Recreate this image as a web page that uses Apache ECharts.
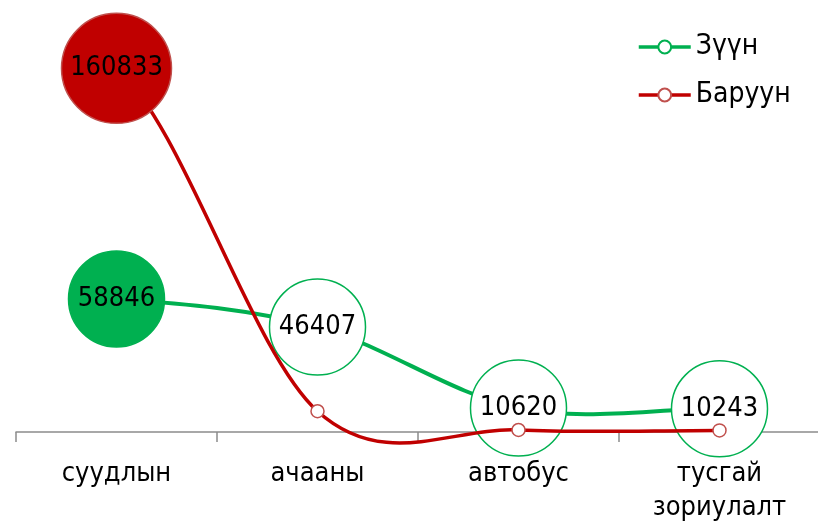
<!DOCTYPE html>
<html>
<head>
<meta charset="utf-8">
<script src="https://cdn.jsdelivr.net/npm/echarts@6/dist/echarts.min.js"></script>
<style>
  html, body { margin: 0; padding: 0; background: #fff; }
  #main { width: 818px; height: 521px; }
</style>
</head>
<body>
<div id="main"></div>
<script>
// categories and series values
const categories = ['суудлын', 'ачааны', 'автобус', 'тусгай\nзориулалт'];
const eastValues = [58846, 46407, 10620, 10243];   // Зүүн
const westValues = [160833, 9200, 900, 700];      // Баруун
const westLabelShown = [true, false, false, false];

const font = '"DejaVu Sans Condensed", "DejaVu Sans", sans-serif';
const GREEN = '#00b050';
const RED = '#c00000';

let myChart = echarts.init(document.getElementById('main'));

// excel-like smoothed segment (catmull-rom), one segment per data item
const smoothSegment = (values, color, width) => (params, api) => {
  const i = params.dataIndex;
  if (i >= values.length - 1) return null;
  const pt = j => api.coord([j, values[Math.max(0, Math.min(values.length - 1, j))]]);
  const p0 = pt(i - 1), p1 = pt(i), p2 = pt(i + 1), p3 = pt(i + 2);
  const c1 = [p1[0] + (p2[0] - p0[0]) / 6, p1[1] + (p2[1] - p0[1]) / 6];
  const c2 = [p2[0] - (p3[0] - p1[0]) / 6, p2[1] - (p3[1] - p1[1]) / 6];
  return {
    type: 'bezierCurve',
    shape: { x1: p1[0], y1: p1[1], cpx1: c1[0], cpy1: c1[1], cpx2: c2[0], cpy2: c2[1], x2: p2[0], y2: p2[1] },
    style: { stroke: color, lineWidth: width, fill: null }
  };
};

const eastData = eastValues.map((v, i) => {
  if (i === 0) {
    return { value: v, itemStyle: { color: GREEN, borderColor: GREEN } };
  }
  return { value: v };
});

const westData = westValues.map((v, i) => {
  if (i === 0) {
    return { value: v, symbolSize: 110, itemStyle: { color: RED, borderColor: '#c0504d' } };
  }
  return { value: v };
});

let option = {
  animation: false,
  legend: {
    orient: 'vertical',
    left: 632,
    top: 28,
    itemGap: 20,
    itemWidth: 52,
    itemHeight: 16,
    textStyle: { fontFamily: font, fontSize: 28, color: '#000' },
    data: [
      { name: 'Зүүн', lineStyle: { color: GREEN, width: 3.5, opacity: 1 } },
      { name: 'Баруун', lineStyle: { color: RED, width: 3.5, opacity: 1 } }
    ]
  },
  grid: { left: 16, top: 25, width: 804, bottom: 89, outerBoundsMode: 'none' },
  xAxis: {
    type: 'category',
    data: categories,
    axisLine: { lineStyle: { color: '#8c8c8c', width: 1.5 } },
    axisTick: { show: true, length: 10, lineStyle: { color: '#8c8c8c', width: 1.5 } },
    axisLabel: {
      interval: 0, margin: 25, lineHeight: 34,
      fontFamily: font, fontSize: 27, color: '#000'
    }
  },
  yAxis: { type: 'value', min: 0, max: 180000, show: false, splitLine: { show: false } },
  series: [
    {
      type: 'custom',
      renderItem: smoothSegment(eastValues, GREEN, 4),
      data: eastValues,
      silent: true,
      z: 1
    },
    {
      name: 'Зүүн',
      type: 'line',
      symbol: 'circle',
      symbolSize: 96,
      lineStyle: { color: GREEN, width: 3, opacity: 0 },
      itemStyle: { color: '#fff', borderColor: GREEN, borderWidth: 1.5 },
      label: { show: true, position: 'inside', fontFamily: font, fontSize: 27, color: '#000' },
      data: eastData,
      z: 2
    },
    {
      type: 'custom',
      renderItem: smoothSegment(westValues, RED, 3.5),
      data: westValues,
      silent: true,
      z: 3
    },
    {
      name: 'Баруун',
      type: 'line',
      symbol: 'circle',
      symbolSize: 13,
      lineStyle: { color: RED, width: 3, opacity: 0 },
      itemStyle: { color: '#fff', borderColor: '#c0504d', borderWidth: 1.5 },
      label: {
        show: true, position: 'inside', fontFamily: font, fontSize: 27, color: '#000',
        formatter: p => (westLabelShown[p.dataIndex] ? p.value : '')
      },
      data: westData,
      z: 4
    }
  ]
};

myChart.setOption(option);
</script>
</body>
</html>
